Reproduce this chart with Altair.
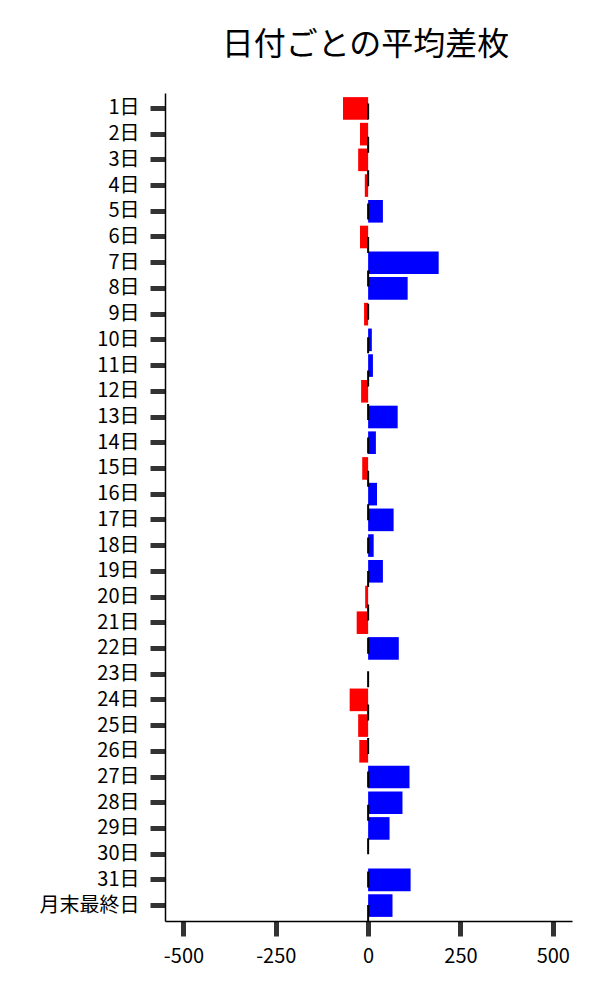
import altair as alt
import pandas as pd

days = [f"{i}日" for i in range(1, 32)] + ["月末最終日"]
values = [-68, -22, -27, -9, 40, -22, 191, 107, -11, 10, 13, -19,
          80, 21, -16, 24, 69, 15, 40, -8, -31, 83, 0, -50,
          -27, -24, 112, 93, 58, 0, 115, 66]
x_ticks = [-500, -250, 0, 250, 500]

df = pd.DataFrame({"day": days, "value": values})

FONT = "Noto Sans CJK JP"
W, H = 407, 828

bars = alt.Chart(df).mark_bar().encode(
    y=alt.Y(
        "day:N",
        sort=days,
        scale=alt.Scale(paddingInner=0.12, paddingOuter=0.16),
        axis=alt.Axis(
            title=None, domainColor="black", domainWidth=1.5,
            tickColor="#333333", tickWidth=5, tickSize=15,
            labelPadding=11, labelFontSize=20, labelFont=FONT,
            labelColor="black", grid=False,
        ),
    ),
    x=alt.X(
        "value:Q",
        scale=alt.Scale(domain=[-550, 552], nice=False, zero=False),
        axis=alt.Axis(
            title=None, values=x_ticks, labelExpr="'' + datum.value",
            domainColor="black", domainWidth=1.5, tickColor="#333333",
            tickWidth=5, tickSize=15, labelPadding=10, labelFontSize=20,
            labelFont=FONT, labelColor="black", grid=False,
        ),
    ),
    color=alt.condition(
        alt.datum.value < 0, alt.value("#ff0000"), alt.value("#0000ff")
    ),
)

zero_line = alt.Chart(pd.DataFrame({"z": [0]})).mark_rule(
    color="black", strokeWidth=2, strokeDash=[16, 17.4]
).encode(
    x=alt.X("z:Q"),
    y=alt.value(H),
    y2=alt.value(0),
)

chart = alt.layer(bars, zero_line).properties(
    width=W,
    height=H,
    title=alt.TitleParams(
        "日付ごとの平均差枚", fontSize=32, font=FONT, fontWeight="normal",
        color="black", anchor="middle", baseline="bottom", offset=-2, dx=-3,
    ),
    autosize=alt.AutoSizeParams(type="none"),
    padding={"left": 157, "top": 85, "right": 10, "bottom": 70},
).configure_view(stroke=None)

chart.save("out.html", embed_options={"renderer": "svg", "actions": False})
